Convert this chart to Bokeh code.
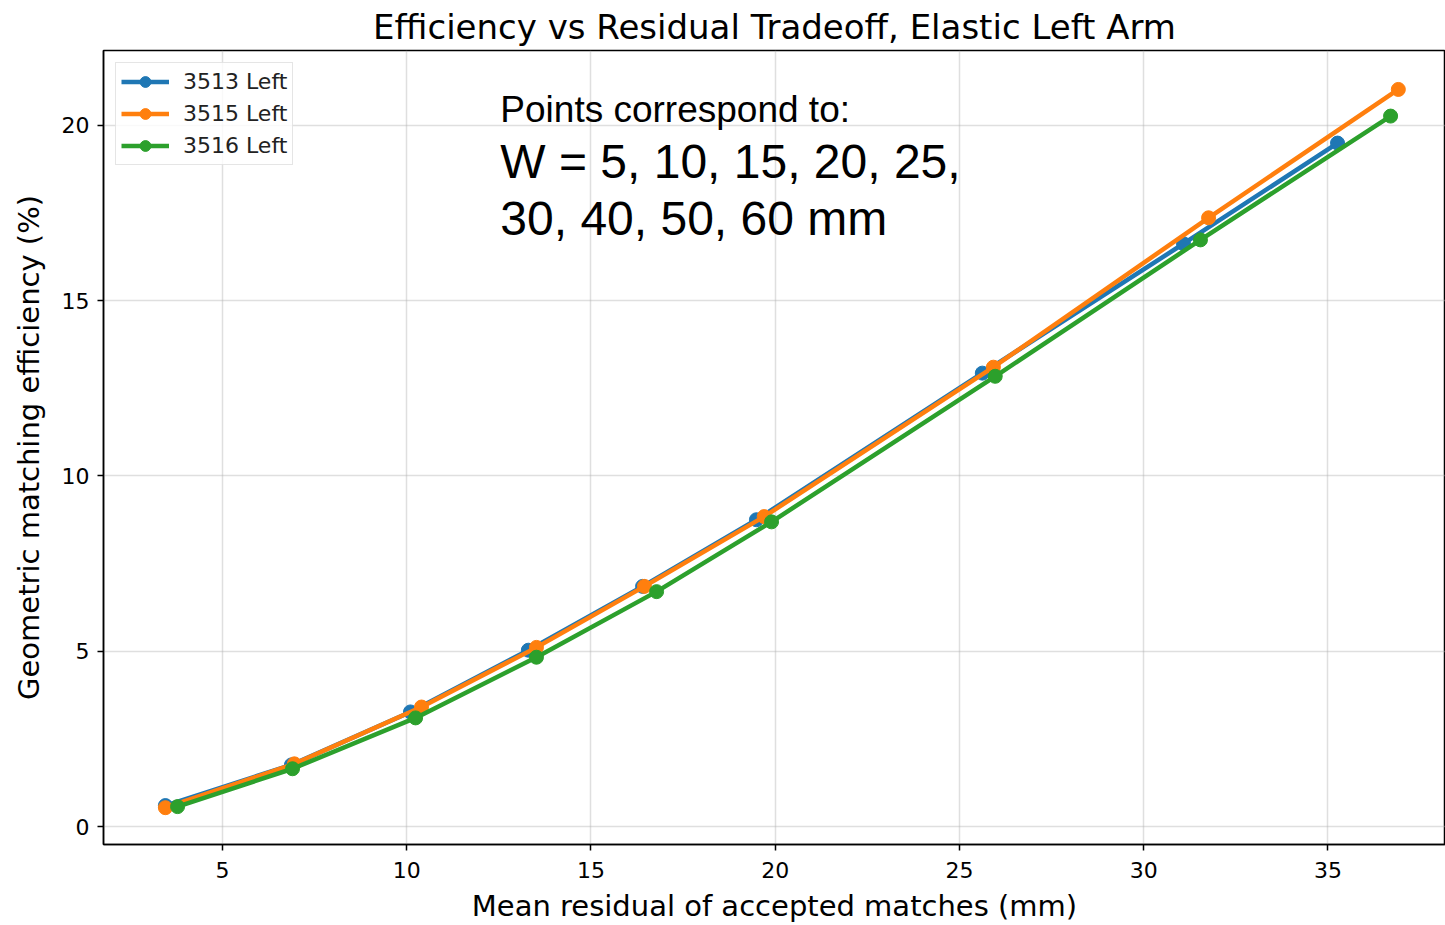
from bokeh.plotting import figure
from bokeh.models import Range1d, Label, Legend, LegendItem, SingleIntervalTicker
from bokeh.embed import file_html
from bokeh.resources import INLINE

# Data
x_3513 = [3.45, 6.87, 10.10, 13.30, 16.40, 19.49, 25.62, 31.08, 35.26]
y_3513 = [0.60, 1.76, 3.27, 5.03, 6.85, 8.75, 12.93, 16.62, 19.49]
x_3515 = [3.45, 6.95, 10.40, 13.52, 16.45, 19.70, 25.92, 31.76, 36.91]
y_3515 = [0.54, 1.79, 3.41, 5.11, 6.85, 8.84, 13.10, 17.36, 21.02]
x_3516 = [3.78, 6.90, 10.24, 13.52, 16.78, 19.90, 25.97, 31.54, 36.70]
y_3516 = [0.57, 1.65, 3.10, 4.83, 6.70, 8.69, 12.84, 16.73, 20.26]

series_names = ["3513 Left", "3515 Left", "3516 Left"]
series_colors = ["#1f77b4", "#ff7f0e", "#2ca02c"]
xs = [x_3513, x_3515, x_3516]
ys = [y_3513, y_3515, y_3516]

title_text = "Efficiency vs Residual Tradeoff, Elastic Left Arm"
x_label = "Mean residual of accepted matches (mm)"
y_label = "Geometric matching efficiency (%)"
note_lines = ["Points correspond to:", "W = 5, 10, 15, 20, 25,", "30, 40, 50, 60 mm"]

p = figure(width=1445, height=925, output_backend="svg", toolbar_location=None,
           x_range=Range1d(1.77, 38.19), y_range=Range1d(-0.51, 22.13),
           min_border_left=103, min_border_right=0, min_border_top=48, min_border_bottom=80)

p.title.text = title_text
p.title.align = "center"
p.title.text_font = "DejaVu Sans"
p.title.text_font_size = "34px"
p.title.text_font_style = "normal"
p.title.text_color = "black"
p.title.standoff = 8

p.outline_line_color = "black"
p.outline_line_width = 1.5
p.outline_line_alpha = 1.0

for ax in (p.xaxis[0], p.yaxis[0]):
    ax.axis_line_color = "black"
    ax.axis_line_width = 1.5
    ax.major_tick_line_color = "black"
    ax.major_tick_line_width = 1.5
    ax.major_tick_out = 6
    ax.major_tick_in = 0
    ax.minor_tick_line_color = None
    ax.major_label_text_font = "DejaVu Sans"
    ax.major_label_text_font_size = "22px"
    ax.major_label_text_color = "black"
    ax.axis_label_text_font = "DejaVu Sans"
    ax.axis_label_text_font_size = "29px"
    ax.axis_label_text_font_style = "normal"
    ax.axis_label_text_color = "black"

p.xaxis[0].ticker = SingleIntervalTicker(interval=5)
p.yaxis[0].ticker = SingleIntervalTicker(interval=5)
p.xaxis.axis_label = x_label
p.yaxis.axis_label = y_label
p.xaxis.major_label_standoff = 11
p.yaxis.major_label_standoff = 8
p.xaxis.axis_label_standoff = 8
p.yaxis.axis_label_standoff = 13

p.grid.grid_line_color = "#b0b0b0"
p.grid.grid_line_alpha = 0.4
p.grid.grid_line_width = 1.5

items = []
for name, color, xv, yv in zip(series_names, series_colors, xs, ys):
    r1 = p.line(xv, yv, line_color=color, line_width=4.5)
    r2 = p.scatter(xv, yv, size=14, fill_color=color, line_color=color)
    items.append(LegendItem(label=name, renderers=[r1, r2]))

legend = Legend(items=items, location="top_left")
legend.label_text_font = "DejaVu Sans"
legend.label_text_font_size = "22px"
legend.label_text_color = "#222222"
legend.glyph_width = 48
legend.glyph_height = 27
legend.label_standoff = 14
legend.spacing = 5
legend.padding = 5
legend.margin = 12
legend.border_line_color = "#cccccc"
legend.border_line_width = 1.5
legend.background_fill_alpha = 0.8
p.add_layout(legend)

note_y = [20.45, 18.97, 17.33]
note_sizes = ["37px", "48px", "48px"]
for t, yy, fs in zip(note_lines, note_y, note_sizes):
    p.add_layout(Label(x=12.54, y=yy, text=t, text_font="Liberation Sans",
                       text_font_size=fs, text_color="black",
                       text_baseline="alphabetic", text_align="left"))

open("out.html", "w").write(file_html(p, INLINE))
